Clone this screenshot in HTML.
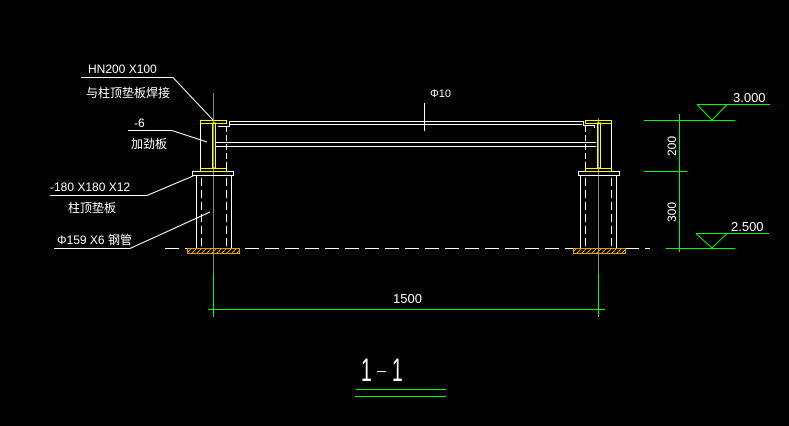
<!DOCTYPE html>
<html><head><meta charset="utf-8"><style>
html,body{margin:0;padding:0;background:#000;}
svg{display:block}
text{font-family:"Liberation Sans","Noto Sans CJK SC",sans-serif;fill:#fff}
</style></head><body>
<svg width="789" height="426" viewBox="0 0 789 426" xmlns="http://www.w3.org/2000/svg" shape-rendering="crispEdges">
<defs>
<pattern id="h" width="5" height="5" patternUnits="userSpaceOnUse"><path d="M0 5 L5 0" stroke="#e0a000" stroke-width="1"/></pattern>
</defs>
<g fill="none" stroke="#fff" stroke-width="1">
<line x1="213.5" y1="93" x2="213.5" y2="274" stroke="#888"/>
<line x1="598.5" y1="118" x2="598.5" y2="274" stroke="#888"/>
<path d="M229.5 121.5 H583.5 V125 M229.5 121.5 V126.5 H218"/>
<path d="M230 124.5 H582 M583 125.5 H594.5 V128"/>
<line x1="216" y1="142.5" x2="596" y2="142.5"/>
<line x1="216" y1="146.5" x2="596" y2="146.5"/>
<line x1="424.5" y1="103" x2="424.5" y2="131"/>
<line x1="200.5" y1="121" x2="200.5" y2="171"/>
<line x1="226.5" y1="126" x2="226.5" y2="171" stroke-dasharray="6 3"/>
<line x1="585.5" y1="126" x2="585.5" y2="171" stroke-dasharray="6 3"/>
<line x1="611.5" y1="121" x2="611.5" y2="171"/>
<rect x="192.5" y="171.5" width="41" height="4"/>
<rect x="578.5" y="171.5" width="41" height="4"/>
<line x1="196.5" y1="176" x2="196.5" y2="248"/>
<line x1="231.5" y1="176" x2="231.5" y2="248"/>
<line x1="201.5" y1="178" x2="201.5" y2="248" stroke-dasharray="8 4"/>
<line x1="226.5" y1="178" x2="226.5" y2="248" stroke-dasharray="8 4"/>
<line x1="580.5" y1="176" x2="580.5" y2="248"/>
<line x1="616.5" y1="176" x2="616.5" y2="248"/>
<line x1="585.5" y1="178" x2="585.5" y2="248" stroke-dasharray="8 4"/>
<line x1="611.5" y1="178" x2="611.5" y2="248" stroke-dasharray="8 4"/>
<line x1="165" y1="248.5" x2="650" y2="248.5" stroke-dasharray="14 6"/>
</g>
<g fill="none" stroke="#fff" stroke-width="1" shape-rendering="auto">
<path d="M81 77.5 H173 L213 120"/>
<path d="M128 130.5 H172 L207 142"/>
<path d="M50 195.5 H147 L193 176"/>
<path d="M54 248.5 H130 L210 212"/>
</g>
<g fill="none" stroke="#ff0" stroke-width="1">
<rect x="200.5" y="120.5" width="26" height="3"/>
<rect x="200.5" y="168.5" width="26" height="3"/>
<rect x="212.5" y="123" width="3" height="45"/>
<rect x="585.5" y="120.5" width="26" height="3"/>
<rect x="585.5" y="168.5" width="26" height="3"/>
<rect x="597.5" y="123" width="3" height="45"/>
</g>
<rect x="187.5" y="248.5" width="52" height="5" fill="url(#h)" stroke="#e0a000"/>
<rect x="573.5" y="248.5" width="52" height="5" fill="url(#h)" stroke="#e0a000"/>
<g fill="#0f0" stroke="none">
<rect x="679" y="114" width="1" height="138"/>
<rect x="644" y="120" width="91" height="1"/>
<rect x="644" y="171" width="43" height="1"/>
<rect x="666" y="248" width="69" height="1"/>
<rect x="697" y="104" width="73" height="1"/>
<rect x="696" y="233" width="73" height="1"/>
<rect x="208" y="309" width="397" height="1"/>
<rect x="213" y="274" width="1" height="43"/>
<rect x="598" y="274" width="1" height="43"/>
<rect x="356" y="389" width="90" height="1"/>
<rect x="355" y="396" width="91" height="1"/>
</g>
<g stroke="#0f0" stroke-width="1" fill="none" shape-rendering="auto">
<path d="M697 104.5 L712 120 L727 104.5"/>
<path d="M696 233.5 L712 248 L727 233.5"/>
</g>
<text x="361" y="381" font-size="32" transform="translate(361,0) scale(0.6,1) translate(-361,0)">1</text>
<rect x="377" y="371" width="9" height="1" fill="#fff"/>
<text x="392" y="381" font-size="32" transform="translate(392,0) scale(0.6,1) translate(-392,0)">1</text>
<text x="88" y="73" font-size="12">HN200 X100</text>
<text x="86" y="97" font-size="12">与柱顶垫板焊接</text>
<text x="134" y="127" font-size="12">-6</text>
<text x="131" y="148" font-size="12">加劲板</text>
<text x="50" y="191" font-size="12">-180 X180 X12</text>
<text x="68" y="212" font-size="12">柱顶垫板</text>
<text x="57" y="244" font-size="12">Φ159 X6 钢管</text>
<text x="430" y="97" font-size="11">Φ10</text>
<text x="733" y="102" font-size="13">3.000</text>
<text x="731" y="231" font-size="13">2.500</text>
<text x="393" y="303" font-size="13">1500</text>
<text font-size="12" transform="translate(676,156) rotate(-90)">200</text>
<text font-size="12" transform="translate(676,222) rotate(-90)">300</text>
</svg>
</body></html>
